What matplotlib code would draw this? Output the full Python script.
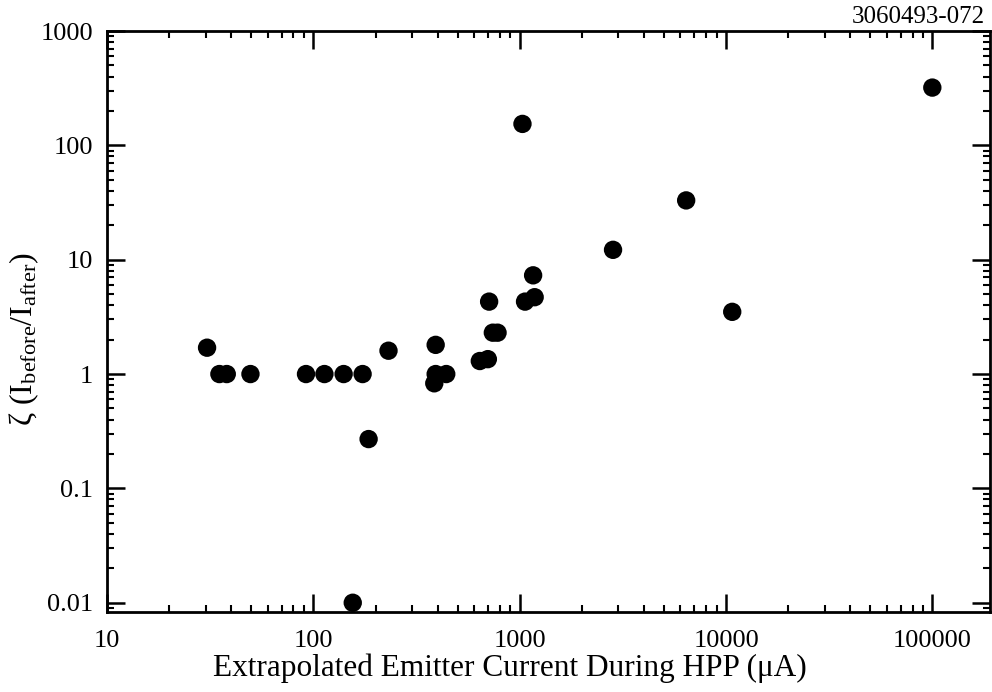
import numpy as np
import matplotlib
matplotlib.use("Agg")
import matplotlib.pyplot as plt
from matplotlib.ticker import LogLocator, NullFormatter, FixedLocator, FixedFormatter

# emitter current during HPP (uA) and zeta = I_before / I_after
current = [30.5, 35, 38, 49.5,
           92, 113, 140, 173,
           155, 185, 231,
           385, 391, 391, 440,
           640, 700, 710, 740, 780,
           1030, 1060, 1160, 1180,
           2830, 6400, 10700, 99800]
zeta = [1.7, 1.0, 1.0, 1.0,
        1.0, 1.0, 1.0, 1.0,
        0.01, 0.27, 1.6,
        0.83, 1.0, 1.8, 1.0,
        1.3, 1.35, 4.3, 2.3, 2.3,
        154, 4.3, 7.3, 4.7,
        12.2, 33, 3.5, 320]

y_ticks = [0.01, 0.1, 1, 10, 100, 1000]
y_labels = ["0.01", "0.1", "1", "10", "100", "1000"]
x_ticks = [10, 100, 1000, 10000, 100000]
x_labels = ["10", "100", "1000", "10000", "100000"]

plt.rcParams["font.family"] = ["Liberation Serif", "DejaVu Serif"]
plt.rcParams["mathtext.fontset"] = "custom"
plt.rcParams["mathtext.rm"] = "Liberation Serif"
plt.rcParams["mathtext.it"] = "Liberation Serif:italic"

fig = plt.figure(figsize=(9.92, 6.92), dpi=100)
ax = fig.add_axes([0.108, 0.1156, 0.890, 0.8396])

ax.scatter(current, zeta, s=175, color="black", edgecolors="none", zorder=3)

ax.set_xscale("log")
ax.set_yscale("log")
ax.set_xlim(10, 190000)
ax.set_ylim(0.0083, 1000)

ax.xaxis.set_major_locator(FixedLocator(x_ticks))
ax.xaxis.set_major_formatter(FixedFormatter(x_labels))
ax.yaxis.set_major_locator(FixedLocator(y_ticks))
ax.yaxis.set_major_formatter(FixedFormatter(y_labels))
ax.xaxis.set_minor_locator(LogLocator(base=10, subs=np.arange(2, 10), numticks=20))
ax.yaxis.set_minor_locator(LogLocator(base=10, subs=np.arange(2, 10), numticks=20))
ax.xaxis.set_minor_formatter(NullFormatter())
ax.yaxis.set_minor_formatter(NullFormatter())

ax.tick_params(which="both", direction="in", top=True, right=True, labelsize=19)
ax.tick_params(which="major", length=13, width=1.8, pad=10)
ax.tick_params(axis="x", which="major", pad=13)
ax.tick_params(which="minor", length=5, width=1.5)
for s in ax.spines.values():
    s.set_linewidth(2)

ax.set_xlabel("Extrapolated Emitter Current During HPP (μA)", fontsize=22.5)
ax.xaxis.set_label_coords(0.456, -0.071)
ax.set_ylabel(r"ζ (I$_{\mathrm{before}}$/I$_{\mathrm{after}}$)", fontsize=23)
ax.yaxis.set_label_coords(-0.075, 0.469)

fig.text(0.993, 0.975, "3060493-072", ha="right", va="center", fontsize=18)

fig.savefig("out.png", dpi=100)
